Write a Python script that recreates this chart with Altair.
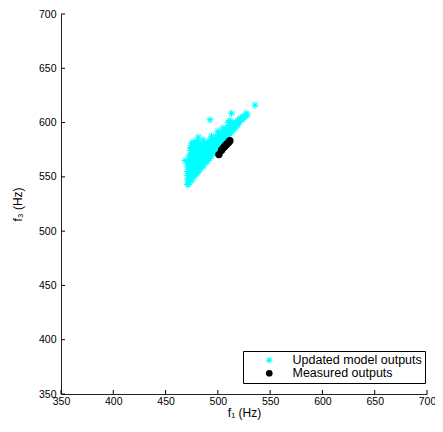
import altair as alt
import pandas as pd

# ---- data ----
model_f1 = [
    471, 471, 471, 471, 471, 471,
    472.5, 472.5, 472.5, 472.5, 472.5, 472.5, 472.5,
    474, 474, 474, 474, 474, 474, 474, 474, 474,
    475.5, 475.5, 475.5, 475.5, 475.5, 475.5, 475.5, 475.5, 475.5,
    477, 477, 477, 477, 477, 477, 477, 477, 477,
    478.5, 478.5, 478.5, 478.5, 478.5, 478.5, 478.5, 478.5,
    480, 480, 480, 480, 480, 480, 480, 480, 480,
    481.5, 481.5, 481.5, 481.5, 481.5, 481.5, 481.5,
    483, 483, 483, 483, 483, 483, 483,
    484.5, 484.5, 484.5, 484.5, 484.5, 484.5,
    486, 486, 486, 486, 486, 486,
    487.5, 487.5, 487.5, 487.5, 487.5, 487.5,
    489, 489, 489, 489, 489,
    490.5, 490.5, 490.5, 490.5, 490.5,
    492, 492, 492, 492, 492,
    493.5, 493.5, 493.5, 493.5, 493.5,
    495, 495, 495, 495,
    496.5, 496.5, 496.5, 496.5,
    498, 498, 498, 498,
    499.5, 499.5, 499.5, 499.5,
    501, 501, 501, 501,
    502.5, 502.5, 502.5, 502.5,
    504, 504, 504,
    505.5, 505.5, 505.5,
    507, 507, 507,
    508.5, 508.5, 508.5,
    510, 510, 510,
    511.5, 511.5, 511.5,
    513, 513, 513,
    514.5, 514.5, 514.5,
    516, 516,
    517.5, 517.5,
    519, 519,
    520.5, 520.5,
    522, 522,
    523.5, 523.5,
    525, 526.5, 528,
    492.5, 535.5, 513, 511.5, 527, 481.3, 486, 494, 475, 468.8, 471.7, 500, 505, 509.8, 476.5,
]
model_f3 = [
    543, 547, 551, 555, 559, 563,
    545, 549, 553, 557, 561, 565, 569,
    546, 550, 554, 558, 562, 566, 570, 574, 577,
    548, 552, 556, 560, 564, 568, 572, 576, 579,
    550, 554, 558, 562, 566, 570, 574, 578, 581,
    552, 556, 560, 564, 568, 572, 576, 580,
    553, 557, 561, 565, 569, 573, 577, 581, 583,
    555, 559, 563, 567, 571, 575, 579,
    557, 561, 565, 569, 573, 577, 581,
    559, 563, 567, 571, 575, 579,
    560, 564, 568, 572, 576, 580,
    562, 566, 570, 574, 578, 581,
    564, 568, 572, 576, 580,
    565, 569, 573, 577, 581,
    567, 571, 575, 579, 583,
    569, 573, 577, 581, 584,
    571, 575, 579, 583,
    572, 576, 580, 584,
    574, 578, 582, 586,
    576, 580, 584, 588,
    578, 582, 586, 589,
    579, 583, 587, 590,
    581, 585, 589,
    583, 587, 591,
    585, 589, 593,
    586, 590, 594,
    588, 592, 596,
    590, 594, 597,
    591, 595, 598,
    593, 597, 600,
    595, 599,
    596, 600,
    598, 602,
    600, 603,
    602, 604,
    603, 605,
    605, 606, 607,
    602.5, 616, 608.5, 602, 608.5, 586.5, 584, 587.5, 580.5, 565, 543.5, 592, 595, 600, 582,
]
measured_f1 = [501, 503.5, 505, 506.5, 508, 509.5, 510.5, 511.5]
measured_f3 = [570.5, 574.5, 576.5, 578, 579.5, 581, 582, 583.3]

tick_values = [350, 400, 450, 500, 550, 600, 650, 700]
series_names = ["Updated model outputs", "Measured outputs"]
series_colors = ["#00FFFF", "#000000"]

ASTERISK = ("M-1,-0.14L1,-0.14L1,0.14L-1,0.14Z"
            "M0.14,-1L0.14,1L-0.14,1L-0.14,-1Z"
            "M-0.608,-0.806L0.806,0.608L0.608,0.806L-0.806,-0.608Z"
            "M-0.806,0.608L0.608,-0.806L0.806,-0.608L-0.608,0.806Z")

W, H = 366, 380
FONT = "Liberation Sans"

model_df = pd.DataFrame({"f1": model_f1, "f3": model_f3, "series": series_names[0]})
meas_df = pd.DataFrame({"f1": measured_f1, "f3": measured_f3, "series": series_names[1]})
tick_df = pd.DataFrame({"v": tick_values})

xscale = alt.Scale(domain=[350, 700], nice=False, zero=False)
yscale = alt.Scale(domain=[350, 700], nice=False, zero=False)
xaxis = alt.Axis(values=tick_values, title="f₁ (Hz)", ticks=False, grid=False,
                 labelPadding=2, titlePadding=1, format="d", labelFlush=False)
yaxis = alt.Axis(values=tick_values, title="f₃ (Hz)", ticks=False, grid=False,
                 labelPadding=5, titlePadding=14, format="d", labelFlush=False)

color = alt.Color("series:N",
                  scale=alt.Scale(domain=series_names, range=series_colors),
                  legend=alt.Legend(title=None, orient="none", legendX=182, legendY=337,
                                    strokeColor="black", fillColor="white", padding=3,
                                    labelFont=FONT, labelFontSize=12.5, labelColor="black",
                                    symbolSize=45, symbolOffset=17, labelOffset=17,
                                    rowPadding=0, symbolStrokeWidth=0, symbolOpacity=1))
shape = alt.Shape("series:N",
                  scale=alt.Scale(domain=series_names, range=[ASTERISK, "circle"]),
                  legend=None)

model_layer = alt.Chart(model_df).mark_point(filled=True, size=52, opacity=1, strokeWidth=0).encode(
    x=alt.X("f1:Q", scale=xscale, axis=xaxis),
    y=alt.Y("f3:Q", scale=yscale, axis=yaxis),
    color=color,
    shape=shape,
)
meas_layer = alt.Chart(meas_df).mark_point(filled=True, size=55, opacity=1, strokeWidth=0).encode(
    x=alt.X("f1:Q", scale=xscale, axis=xaxis),
    y=alt.Y("f3:Q", scale=yscale, axis=yaxis),
    color=color,
    shape=shape,
)
xticks = alt.Chart(tick_df).mark_rule(color="black", strokeWidth=1).encode(
    x=alt.X("v:Q", scale=xscale, axis=xaxis),
    y=alt.value(H),
    y2=alt.value(H - 4),
)
yticks = alt.Chart(tick_df).mark_rule(color="black", strokeWidth=1).encode(
    y=alt.Y("v:Q", scale=yscale, axis=yaxis),
    x=alt.value(0),
    x2=alt.value(4),
)

chart = alt.layer(model_layer, meas_layer, xticks, yticks).properties(
    width=W, height=H,
    autosize=alt.AutoSizeParams(type="none"),
    padding={"left": 53, "top": 6, "right": 8, "bottom": 26},
).configure_view(stroke=None).configure_axis(
    labelFont=FONT, labelFontSize=10.5, labelColor="black",
    titleFont=FONT, titleFontSize=12, titleFontWeight="normal", titleColor="black",
    domainColor="#222", domainWidth=1,
)

chart.save("out.html", embed_options={"renderer": "svg", "actions": False})
